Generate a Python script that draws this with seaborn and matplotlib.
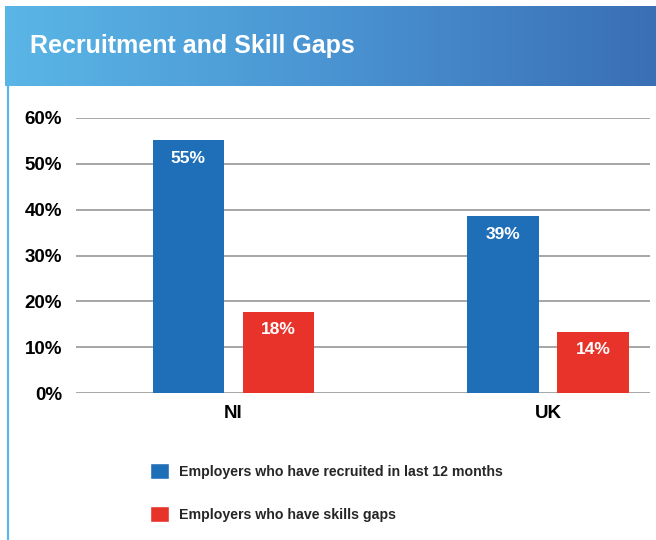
import numpy as np
import pandas as pd
import matplotlib
matplotlib.use("Agg")
import matplotlib.pyplot as plt
import seaborn as sns
from matplotlib.patches import Patch
from matplotlib.lines import Line2D
from matplotlib.colors import LinearSegmentedColormap

# --- data ---
regions = ["NI", "UK"]
series = ["Employers who have recruited in last 12 months",
          "Employers who have skills gaps"]
recruited = [55.2, 38.6]
skills_gaps = [17.7, 13.4]
recruited_labels = ["55%", "39%"]
skills_labels = ["18%", "14%"]
y_ticks = [0, 10, 20, 30, 40, 50, 60]

blue = "#1f6fb8"
red = "#e8332a"

df = pd.DataFrame({
    "region": regions * 2,
    "series": [series[0]] * 2 + [series[1]] * 2,
    "value": recruited + skills_gaps,
    "label": recruited_labels + skills_labels,
})

sns.set_style("white")
plt.rcParams["font.family"] = ["Liberation Sans", "DejaVu Sans"]

fig = plt.figure(figsize=(6.56, 5.40), dpi=100)

# header banner with blue gradient
hdr = fig.add_axes([5 / 656, 1 - 86 / 540, 651 / 656, 80 / 540])
grad_cmap = LinearSegmentedColormap.from_list("hdr", ["#5ab6e6", "#4a94d2", "#3a6fb5"])
hdr.imshow(np.linspace(0, 1, 256).reshape(1, -1), aspect="auto", cmap=grad_cmap,
           extent=[0, 1, 0, 1])
hdr.set_axis_off()
hdr.text(25 / 651, 0.5, "Recruitment and Skill Gaps", color="white",
         fontsize=18, fontweight="bold", va="center", ha="left",
         transform=hdr.transAxes)

# thin left border under the banner
fig.add_artist(Line2D([7.5 / 656, 7.5 / 656], [0, 1 - 86 / 540],
                      color="#5ab6e6", linewidth=1.6))

ax = fig.add_axes([76 / 656, 1 - 393 / 540, 574 / 656, 275 / 540])
sns.barplot(data=df, x="region", y="value", hue="series",
            palette=[blue, red], width=0.572, gap=0.21,
            saturation=1, legend=False, linewidth=0, ax=ax, zorder=3)

ax.set_xlim(-0.5, 1.324)
ax.set_ylim(0, 60)
ax.set_yticks(y_ticks)
ax.set_yticklabels([f"{t}%" for t in y_ticks])
ax.yaxis.grid(True, color="#a6a6a6", linewidth=1.4, zorder=0)
ax.set_axisbelow(True)
for s in ax.spines.values():
    s.set_visible(False)
ax.tick_params(axis="both", length=0, labelsize=13.5, colors="black")
ax.tick_params(axis="y", pad=10)
ax.tick_params(axis="x", pad=9)
for lab in ax.get_xticklabels() + ax.get_yticklabels():
    lab.set_fontweight("bold")
ax.set_xlabel("")
ax.set_ylabel("")

# value labels inside bar tops
labels_in_order = recruited_labels + skills_labels
for patch, txt in zip(ax.patches, labels_in_order):
    x = patch.get_x() + patch.get_width() / 2
    ax.annotate(txt, (x, patch.get_height()), xytext=(0, -13),
                textcoords="offset points", ha="center", va="center",
                color="white", fontsize=12.5, fontweight="bold", zorder=4)

handles = [Patch(facecolor=blue), Patch(facecolor=red)]
fig.legend(handles, series, loc="upper left",
           bbox_to_anchor=(137 / 656, 1 - 450 / 540), frameon=False,
           prop={"weight": "bold", "size": 10.2}, handlelength=1.37,
           handleheight=1.37, handletextpad=0.72, labelspacing=1.9)

fig.savefig("out.png", dpi=100, facecolor="white")
